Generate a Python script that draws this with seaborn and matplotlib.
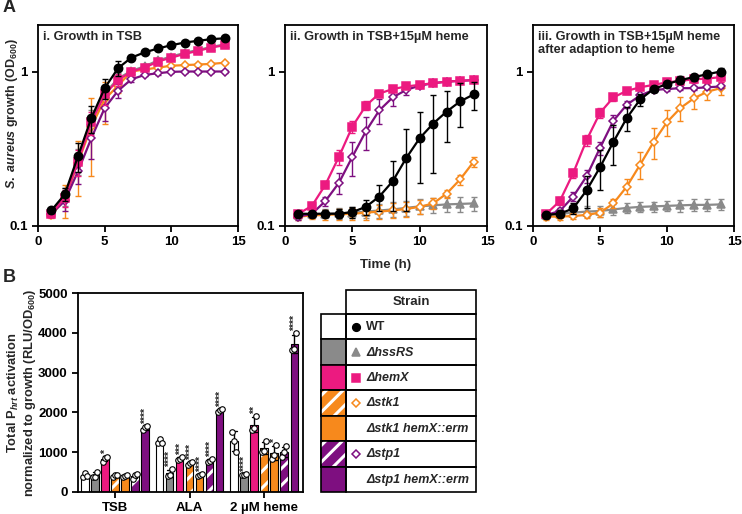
import matplotlib
matplotlib.use("Agg")
import matplotlib.pyplot as plt
from matplotlib.patches import Rectangle
from matplotlib.ticker import NullLocator, FixedLocator
import numpy as np
import pandas as pd
import seaborn as sns

# ---------------- data: growth curves (OD600) ----------------
hours = list(range(1, 15))

# i. growth in TSB
tsb_wt = [0.126, 0.16, 0.283, 0.50, 0.78, 1.05, 1.23, 1.33, 1.41, 1.48, 1.54, 1.58, 1.62, 1.64]
tsb_hss = [0.121, 0.155, 0.265, 0.48, 0.72, 0.90, 1.01, 1.08, 1.18, 1.25, 1.32, 1.38, 1.44, 1.50]
tsb_hemx = [0.12, 0.152, 0.26, 0.47, 0.71, 0.88, 1.0, 1.06, 1.16, 1.23, 1.30, 1.36, 1.43, 1.48]
tsb_stk1 = [0.118, 0.148, 0.257, 0.44, 0.66, 0.81, 1.0, 1.03, 1.06, 1.09, 1.10, 1.11, 1.12, 1.14]
tsb_stp1 = [0.12, 0.145, 0.226, 0.37, 0.58, 0.75, 0.89, 0.95, 0.975, 0.995, 1.0, 1.0, 1.0, 1.0]
tsb_wt_sd = [0.005, 0.015, 0.06, 0.10, 0.12, 0.12, 0.05, 0.04, 0.04, 0.04, 0.04, 0.04, 0.04, 0.04]
tsb_hss_sd = [0.005, 0.02, 0.05, 0.08, 0.10, 0.08, 0.05, 0.04, 0.03, 0.03, 0.03, 0.03, 0.03, 0.03]
tsb_hemx_sd = [0.005, 0.02, 0.05, 0.08, 0.10, 0.08, 0.04, 0.03, 0.03, 0.03, 0.03, 0.03, 0.03, 0.03]
tsb_stk1_sd = [0.005, 0.035, 0.10, 0.23, 0.20, 0.08, 0.03, 0.02, 0.02, 0.02, 0.02, 0.02, 0.02, 0.02]
tsb_stp1_sd = [0.005, 0.02, 0.04, 0.10, 0.10, 0.08, 0.03, 0.02, 0.02, 0.02, 0.02, 0.02, 0.02, 0.02]

# ii. growth in TSB + 15 uM heme
heme_wt = [0.12, 0.12, 0.12, 0.12, 0.123, 0.133, 0.155, 0.195, 0.275, 0.37, 0.46, 0.55, 0.64, 0.71]
heme_hss = [0.118, 0.119, 0.12, 0.121, 0.122, 0.124, 0.126, 0.128, 0.131, 0.134, 0.136, 0.138, 0.139, 0.14]
heme_hemx = [0.12, 0.135, 0.185, 0.28, 0.44, 0.60, 0.72, 0.77, 0.80, 0.82, 0.84, 0.86, 0.87, 0.88]
heme_stk1 = [0.115, 0.117, 0.118, 0.119, 0.12, 0.122, 0.124, 0.126, 0.129, 0.133, 0.14, 0.162, 0.20, 0.26]
heme_stp1 = [0.115, 0.12, 0.145, 0.19, 0.28, 0.41, 0.56, 0.68, 0.76, 0.81, 0.84, 0.86, 0.87, 0.88]
heme_wt_sd = [0.005, 0.005, 0.006, 0.008, 0.01, 0.015, 0.03, 0.07, 0.15, 0.18, 0.24, 0.20, 0.20, 0.15]
heme_hss_sd = [0.006, 0.006, 0.008, 0.01, 0.01, 0.012, 0.013, 0.014, 0.015, 0.015, 0.015, 0.015, 0.015, 0.015]
heme_hemx_sd = [0.005, 0.006, 0.01, 0.03, 0.04, 0.04, 0.03, 0.02, 0.02, 0.02, 0.02, 0.02, 0.02, 0.02]
heme_stk1_sd = [0.006, 0.006, 0.008, 0.01, 0.01, 0.012, 0.013, 0.014, 0.014, 0.014, 0.012, 0.01, 0.015, 0.02]
heme_stp1_sd = [0.005, 0.006, 0.01, 0.03, 0.07, 0.10, 0.10, 0.08, 0.06, 0.03, 0.02, 0.02, 0.02, 0.02]

# iii. growth in TSB + 15 uM heme after adaption to heme
adapt_wt = [0.118, 0.12, 0.13, 0.17, 0.24, 0.35, 0.50, 0.66, 0.77, 0.83, 0.88, 0.92, 0.96, 1.0]
adapt_hss = [0.118, 0.12, 0.122, 0.124, 0.125, 0.128, 0.131, 0.133, 0.134, 0.135, 0.136, 0.137, 0.137, 0.138]
adapt_hemx = [0.12, 0.145, 0.22, 0.36, 0.54, 0.68, 0.75, 0.79, 0.82, 0.85, 0.87, 0.89, 0.90, 0.92]
adapt_stk1 = [0.115, 0.115, 0.116, 0.118, 0.122, 0.14, 0.18, 0.25, 0.35, 0.47, 0.58, 0.67, 0.74, 0.78]
adapt_stp1 = [0.118, 0.125, 0.155, 0.21, 0.32, 0.48, 0.61, 0.70, 0.76, 0.77, 0.78, 0.78, 0.79, 0.80]
adapt_wt_sd = [0.005, 0.006, 0.01, 0.04, 0.07, 0.10, 0.09, 0.06, 0.03, 0.04, 0.05, 0.05, 0.05, 0.05]
adapt_hss_sd = [0.005, 0.006, 0.008, 0.01, 0.01, 0.01, 0.01, 0.01, 0.01, 0.01, 0.012, 0.012, 0.012, 0.012]
adapt_hemx_sd = [0.005, 0.008, 0.015, 0.03, 0.04, 0.04, 0.03, 0.03, 0.03, 0.03, 0.04, 0.05, 0.06, 0.06]
adapt_stk1_sd = [0.005, 0.005, 0.005, 0.006, 0.008, 0.01, 0.02, 0.05, 0.08, 0.09, 0.10, 0.10, 0.09, 0.08]
adapt_stp1_sd = [0.005, 0.006, 0.01, 0.02, 0.03, 0.04, 0.03, 0.03, 0.02, 0.02, 0.02, 0.02, 0.02, 0.02]

# ---------------- data: P_hrt activation (RLU/OD600), replicates per medium ----------------
media = ["TSB", "ALA", "2 µM heme"]
strains = ["WT", "ΔhssRS", "ΔhemX", "Δstk1", "Δstk1 hemX::erm", "Δstp1", "Δstp1 hemX::erm"]
reps_wt = [[380, 460, 400], [1230, 1320, 1230], [1510, 1290, 1010]]
reps_hss = [[360, 380, 500], [400, 430, 560], [410, 430, 440]]
reps_hemx = [[760, 840, 880], [800, 830, 880], [1550, 1610, 1900]]
reps_stk1 = [[380, 410, 420], [680, 720, 760], [1010, 1020, 1280]]
reps_stk1_hemx = [[380, 400, 420], [400, 420, 440], [830, 930, 1180]]
reps_stp1 = [[330, 410, 450], [750, 780, 820], [880, 1000, 1140]]
reps_stp1_hemx = [[1560, 1620, 1650], [2020, 2050, 2090], [3580, 3600, 3990]]
stars_tsb = ["", "", "*", "", "", "", "****"]
stars_ala = ["", "****", "***", "****", "****", "****", "****"]
stars_heme = ["", "****", "**", "", "*", "", "****"]

# ---------------- style ----------------
pink = "#EC1A80"
orange = "#F7891C"
purple = "#7E0F80"
grey = "#8A8A8A"
colors = ["white", grey, pink, orange, orange, purple, purple]
hatched = [False, False, False, True, False, True, False]

sns.set_style("ticks")
plt.rcParams["font.family"] = ["Liberation Sans", "DejaVu Sans"]
plt.rcParams["font.weight"] = "bold"
plt.rcParams["mathtext.fontset"] = "custom"
plt.rcParams["mathtext.rm"] = "Liberation Sans:bold"
plt.rcParams["mathtext.it"] = "Liberation Sans:italic:bold"
plt.rcParams["mathtext.bf"] = "Liberation Sans:bold"
plt.rcParams["hatch.linewidth"] = 2.2
plt.rcParams["axes.linewidth"] = 1.3
plt.rcParams["xtick.major.width"] = 1.3
plt.rcParams["ytick.major.width"] = 1.3

W, H = 742, 514
fig = plt.figure(figsize=(W / 100, H / 100), dpi=100)


def px_axes(x0, y0, x1, y1):
    return fig.add_axes([x0 / W, 1 - y1 / H, (x1 - x0) / W, (y1 - y0) / H])


def style_ax(ax, fs=9):
    for s in ax.spines.values():
        s.set_visible(True)
        s.set_color("black")
    ax.tick_params(axis="both", labelsize=fs, length=4, width=1.3, direction="out", colors="black")
    for lab in ax.get_xticklabels() + ax.get_yticklabels():
        lab.set_fontweight("bold")


# ---------------- panel A ----------------
panels = [
    ("i. Growth in TSB", [tsb_hss, tsb_stk1, tsb_stp1, tsb_hemx, tsb_wt],
     [tsb_hss_sd, tsb_stk1_sd, tsb_stp1_sd, tsb_hemx_sd, tsb_wt_sd], (38, 25, 238, 226)),
    ("ii. Growth in TSB+15µM heme", [heme_hss, heme_stk1, heme_stp1, heme_hemx, heme_wt],
     [heme_hss_sd, heme_stk1_sd, heme_stp1_sd, heme_hemx_sd, heme_wt_sd], (285, 25, 487, 226)),
    ("iii. Growth in TSB+15µM heme\nafter adaption to heme", [adapt_hss, adapt_stk1, adapt_stp1, adapt_hemx, adapt_wt],
     [adapt_hss_sd, adapt_stk1_sd, adapt_stp1_sd, adapt_hemx_sd, adapt_wt_sd], (533, 25, 734, 226)),
]
line_colors = [grey, orange, purple, pink, "black"]
line_markers = ["^", "D", "D", "s", "o"]
line_fill = [grey, "white", "white", pink, "black"]
line_msize = [5.5, 4.5, 4.5, 5.5, 6]

for title, series, errs, box in panels:
    ax = px_axes(*box)
    for k, (y, e) in enumerate(zip(series, errs)):
        ax.errorbar(hours, y, yerr=e, fmt="none", ecolor=line_colors[k], elinewidth=1,
                    capsize=2.5, capthick=1, zorder=2 + k)
        sns.lineplot(x=hours, y=y, ax=ax, color=line_colors[k], marker=line_markers[k],
                     markersize=line_msize[k], mfc=line_fill[k], mec=line_colors[k], mew=1.1,
                     linewidth=1.6, zorder=2.5 + k)
    ax.set_yscale("log")
    ax.set_xlim(0, 15)
    ax.set_ylim(0.1, 2.0)
    ax.set_xticks([0, 5, 10, 15])
    ax.yaxis.set_major_locator(FixedLocator([0.1, 1]))
    ax.set_yticklabels(["0.1", "1"])
    ax.yaxis.set_minor_locator(NullLocator())
    ax.set_xlabel("")
    ax.set_ylabel("")
    style_ax(ax, fs=9.5)
    ax.text(0.025, 0.97, title, transform=ax.transAxes, ha="left", va="top",
            fontsize=9.2, fontweight="bold", linespacing=1.1)

fig.text(12 / W, 1 - 114 / H, r"$\mathit{S.\ aureus}$ growth (OD$_{600}$)", rotation=90,
         ha="center", va="center", fontsize=9, fontweight="bold")
fig.text(386 / W, 1 - 265 / H, "Time (h)", ha="center", va="center", fontsize=9.5, fontweight="bold")
fig.text(3 / W, 1 - 8 / H, "A", ha="left", va="center", fontsize=13, fontweight="bold")
fig.text(3 / W, 1 - 277 / H, "B", ha="left", va="center", fontsize=13, fontweight="bold")

# ---------------- panel B ----------------
all_reps = [reps_wt, reps_hss, reps_hemx, reps_stk1, reps_stk1_hemx, reps_stp1, reps_stp1_hemx]
rows = []
for s, reps in zip(strains, all_reps):
    for m, vals in zip(media, reps):
        for v in vals:
            rows.append({"media": m, "strain": s, "value": v})
df = pd.DataFrame(rows)

axb = px_axes(78, 293.3, 303, 491.7)
sns.barplot(data=df, x="media", y="value", hue="strain", order=media, hue_order=strains,
            palette=dict(zip(strains, colors)), width=0.94, gap=0.25, errorbar="sd",
            capsize=0.45, err_kws={"color": "black", "linewidth": 1}, edgecolor="black",
            linewidth=0.8, saturation=1, legend=False, ax=axb)

star_sets = [stars_tsb, stars_ala, stars_heme]
offsets = [-0.027, 0.0, 0.027]
for k, cont in enumerate(axb.containers):
    for j, p in enumerate(cont.patches):
        xc = p.get_x() + p.get_width() / 2
        if hatched[k]:
            p.set_hatch("//")
            p.set_edgecolor("white")
            p.set_linewidth(0)
            axb.add_patch(Rectangle(p.get_xy(), p.get_width(), p.get_height(), fill=False,
                                    ec="black", lw=0.8, zorder=p.get_zorder() + 0.1))
        vals = all_reps[k][j]
        axb.scatter([xc + o for o in offsets], vals, s=16, facecolor="white",
                    edgecolor="black", linewidth=0.8, zorder=5)
        top = max(max(vals), np.mean(vals) + np.std(vals, ddof=1))
        st = star_sets[j][k]
        if st:
            axb.text(xc + 0.01, top + 50, st, rotation=90, ha="center", va="bottom",
                     fontsize=7.5, fontweight="bold")

axb.set_xlim(-0.497, 2.52)
axb.set_ylim(0, 5000)
axb.set_yticks([0, 1000, 2000, 3000, 4000, 5000])
axb.set_xlabel("")
axb.set_ylabel("")
style_ax(axb, fs=9.5)
for lab in axb.get_xticklabels():
    lab.set_fontweight("bold")

fig.text(22 / W, 1 - 393 / H,
         "Total P$_{\\mathit{hrt}}$ activation\nnormalized to growth (RLU/OD$_{600}$)",
         rotation=90, ha="center", va="center", fontsize=9.3, fontweight="bold",
         multialignment="center", linespacing=1.15)

# ---------------- legend table ----------------
axt = px_axes(321, 290, 476, 492)
axt.set_xlim(321, 476)
axt.set_ylim(492, 290)
axt.axis("off")
row_top = 314
row_h = (492 - 314) / 7
axt.add_patch(Rectangle((346, 290), 130, 24, fill=False, ec="black", lw=1.2, clip_on=False))
axt.text(411, 302, "Strain", ha="center", va="center", fontsize=9.5, fontweight="bold")
legend_markers = [("o", "black", "black"), ("^", grey, grey), ("s", pink, pink),
                  ("D", "white", orange), None, ("D", "white", purple), None]
for i, s in enumerate(strains):
    y0 = row_top + i * row_h
    sw = Rectangle((321, y0), 25, row_h, facecolor=colors[i], ec="black", lw=1.2, clip_on=False)
    axt.add_patch(sw)
    if hatched[i]:
        axt.add_patch(Rectangle((321, y0), 25, row_h, facecolor="none", ec="white", lw=0,
                                hatch="//", clip_on=False))
        axt.add_patch(Rectangle((321, y0), 25, row_h, fill=False, ec="black", lw=1.2, clip_on=False))
    axt.add_patch(Rectangle((346, y0), 130, row_h, fill=False, ec="black", lw=1.2, clip_on=False))
    mk = legend_markers[i]
    if mk is not None:
        axt.plot([356], [y0 + row_h / 2], marker=mk[0], mfc=mk[1], mec=mk[2], mew=1.1,
                 markersize=5.5 if mk[0] != "D" else 4.5, clip_on=False)
    style = "normal" if s == "WT" else "italic"
    axt.text(366, y0 + row_h / 2 + 0.5, s, ha="left", va="center", fontsize=9,
             fontweight="bold", fontstyle=style)

fig.savefig("out.png", dpi=100)
